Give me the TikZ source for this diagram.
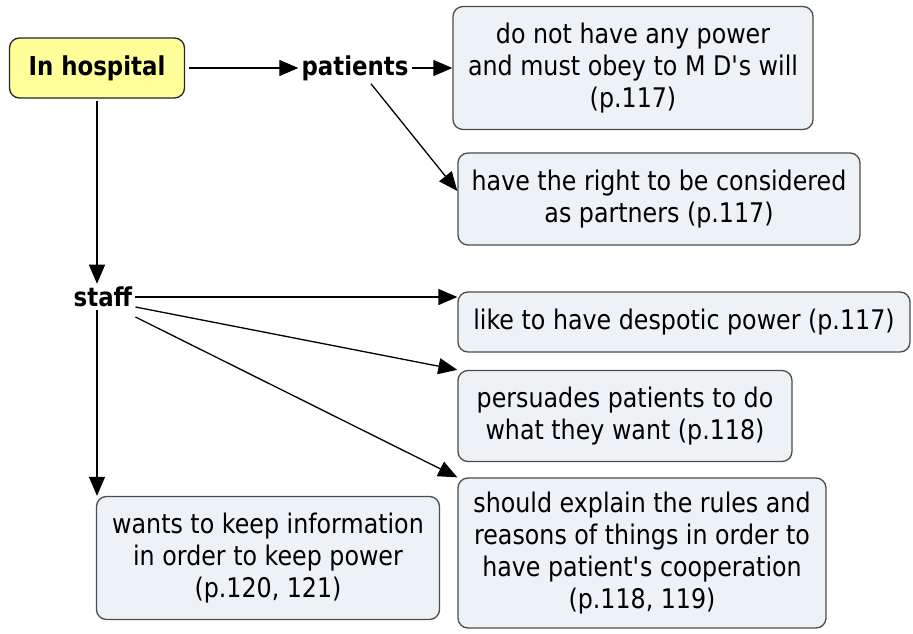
\documentclass[tikz,border=0pt]{standalone}
\usepackage{fontspec}
\setmainfont{DejaVu Sans}[FakeStretch=0.88]
\usetikzlibrary{positioning,calc,arrows.meta}
\definecolor{boxblue}{HTML}{ECF2F5}
\definecolor{boxyellow}{HTML}{FFFF99}

\begin{document}
\begin{tikzpicture}[x=1pt, y=-1pt, every node/.style={font=\fontsize{27}{32}\selectfont}]
    \tikzset{concept/.style={rectangle, draw=black!70, line width=1.3pt, fill=boxblue, align=center, rounded corners=10pt, inner sep=2pt}}
    \tikzset{root/.style={concept, fill=boxyellow, draw=black!85, font=\fontsize{26}{32}\selectfont\bfseries}}
    \tikzset{link/.style={font=\fontsize{26}{32}\selectfont\bfseries, inner sep=3pt}}
    \tikzset{line/.style={draw, -{Triangle[length=19pt, width=16pt]}, line width=1.3pt}}

    \useasboundingbox (0,0) rectangle (913,634);

    % Root and linking words
    \node [root, minimum width=175pt, minimum height=60pt] (hosp) at (97,68) {In hospital};
    \node [link] (pat) at (355,68) {patients};
    \node [link] (staff) at (103,297) {staff};

    % Patients
    \node [concept, minimum width=360pt, minimum height=123pt] (power) at (633,68) {do not have any power\\and must obey to M D\textquotesingle s will\\(p.117)};
    \node [concept, minimum width=402pt, minimum height=92pt] (right) at (659,199) {have the right to be considered\\as partners (p.117)};

    % Staff
    \node [concept, minimum width=452pt, minimum height=60pt] (despot) at (684,322) {like to have despotic power (p.117)};
    \node [concept, minimum width=334pt, minimum height=91pt] (persuade) at (625,416) {persuades patients to do\\what they want (p.118)};
    \node [concept, minimum width=368pt, minimum height=150pt] (explain) at (642,553) {should explain the rules and\\reasons of things in order to\\have patient\textquotesingle s cooperation\\(p.118, 119)};
    \node [concept, minimum width=343pt, minimum height=123pt] (wants) at (268,558) {wants to keep information\\in order to keep power\\(p.120, 121)};

    \path [line, shorten <=4pt] (hosp.east) -- (pat.west);
    \path [line] (pat.east) -- (power.west);
    \path [line] ([xshift=16pt]pat.south) -- ([yshift=8pt]right.west);

    \path [line, shorten <=2pt] (hosp.south) -- (hosp.south |- staff.north);
    \path [line] (staff.east) -- (staff.east -| despot.west);
    \path [line] ([yshift=-10pt]staff.east) -- (persuade.north west);
    \path [line] ([yshift=-20pt]staff.east) -- (explain.north west);
    \path [line] (hosp.south |- staff.south) -- (hosp.south |- wants.north);
\end{tikzpicture}
\end{document}
